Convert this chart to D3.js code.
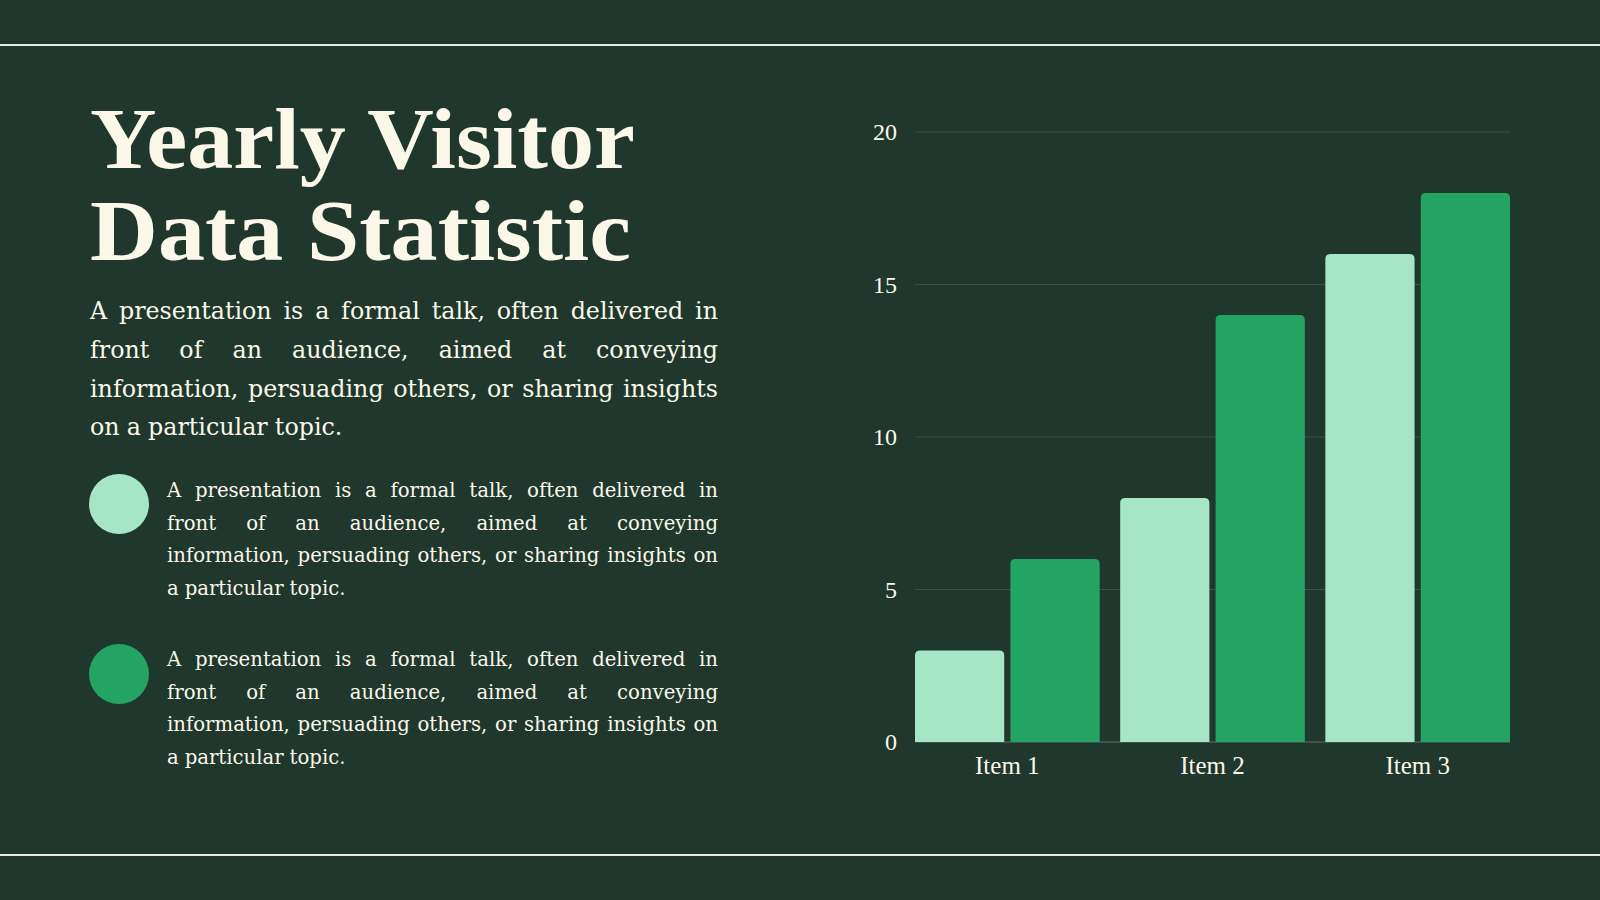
<!DOCTYPE html>
<html>
<head>
<meta charset="utf-8">
<script src="https://cdn.jsdelivr.net/npm/d3@7"></script>
<style>
  html, body { margin: 0; padding: 0; background: #1f372c; }
  svg { display: block; }
</style>
</head>
<body>
<svg id="slide" width="1600" height="900"></svg>
<script>
// chart data
var items = ["Item 1", "Item 2", "Item 3"];
var seriesA = [3, 8, 16];
var seriesB = [6, 14, 18];
var yTicks = [0, 5, 10, 15, 20];

// slide text
var titleLines = ["Yearly Visitor", "Data Statistic"];
var introLines = [
  "A presentation is a formal talk, often delivered in",
  "front of an audience, aimed at conveying",
  "information, persuading others, or sharing insights",
  "on a particular topic."
];
var bulletLines = [
  "A presentation is a formal talk, often delivered in",
  "front of an audience, aimed at conveying",
  "information, persuading others, or sharing insights on",
  "a particular topic."
];

var bg = "#1f372c", cream = "#fbf7e9";
var colA = "#a6e5c6", colB = "#24a463";
var bodyFont = "DejaVu Serif, Liberation Serif, serif";
var labelFont = "Liberation Serif, DejaVu Serif, serif";

var svg = d3.select("#slide");
svg.append("rect").attr("width", 1600).attr("height", 900).attr("fill", bg);

// frame lines
[45, 855].forEach(function(y) {
  svg.append("line").attr("x1", 0).attr("x2", 1600).attr("y1", y).attr("y2", y)
    .attr("stroke", "#e9ece6").attr("stroke-width", 2);
});

// title
var titleW = [545, 541];
titleLines.forEach(function(t, i) {
  svg.append("text")
    .attr("x", 90).attr("y", 168 + i * 92)
    .attr("font-family", labelFont)
    .attr("font-weight", "bold")
    .attr("font-size", 86)
    .attr("fill", cream)
    .attr("textLength", titleW[i])
    .attr("lengthAdjust", "spacingAndGlyphs")
    .text(t);
});

// font size so the longest line, set loosely, nearly fills the width
function fitSize(lines, width, s0) {
  var probe = svg.append("text").attr("font-family", bodyFont).attr("font-size", s0);
  var w = d3.max(lines, function(l) { probe.text(l); return probe.node().getComputedTextLength(); });
  probe.remove();
  return s0 * width * 0.985 / w;
}

// justified block: every line but the last is spread to full width
function block(lines, x, y0, width, size, lh) {
  lines.forEach(function(line, li) {
    var words = line.split(" ");
    var g = svg.append("g");
    var nodes = words.map(function(w) {
      return g.append("text")
        .attr("y", y0 + li * lh)
        .attr("font-family", bodyFont)
        .attr("font-size", size)
        .attr("fill", cream)
        .text(w);
    });
    var widths = nodes.map(function(n) { return n.node().getComputedTextLength(); });
    var total = d3.sum(widths);
    var last = li === lines.length - 1;
    var gap = last || words.length < 2 ? size * 0.3 : (width - total) / (words.length - 1);
    var cx = x;
    nodes.forEach(function(n, i) {
      n.attr("x", cx);
      cx += widths[i] + gap;
    });
  });
}

block(introLines, 90, 319, 628, fitSize(introLines, 628, 26), 38.8);

var bSize = fitSize(bulletLines, 551, 21);
var bullets = [{c: colA, cy: 504, y0: 497}, {c: colB, cy: 674, y0: 666}];
bullets.forEach(function(b) {
  svg.append("circle").attr("cx", 119).attr("cy", b.cy).attr("r", 30).attr("fill", b.c);
  block(bulletLines, 167, b.y0, 551, bSize, 32.6);
});

// chart
var x0 = d3.scaleBand().domain(items).range([915, 1510]).paddingInner(0.1).paddingOuter(0);
var x1 = d3.scaleBand().domain([0, 1]).range([0, x0.bandwidth()]).paddingInner(0.065).paddingOuter(0);
var y = d3.scaleLinear().domain([0, 20]).range([742, 132]);

var grid = svg.append("g");
grid.selectAll("line").data(yTicks).enter().append("line")
  .attr("x1", 915).attr("x2", 1510)
  .attr("y1", function(d) { return y(d); }).attr("y2", function(d) { return y(d); })
  .attr("stroke", function(d) { return d === 0 ? "#5c6f64" : "#3a5345"; })
  .attr("stroke-width", 1);

var yAxis = d3.axisLeft(y).tickValues(yTicks).tickSize(0).tickPadding(0);
var ya = svg.append("g").attr("transform", "translate(897,0)").call(yAxis);
ya.select(".domain").remove();
ya.selectAll("text")
  .attr("font-family", labelFont)
  .attr("font-size", 24).attr("fill", cream);

var xAxis = d3.axisBottom(x0).tickSize(0).tickPadding(0);
var xa = svg.append("g").attr("transform", "translate(0,756)").call(xAxis);
xa.select(".domain").remove();
xa.selectAll("text")
  .attr("font-family", labelFont)
  .attr("font-size", 25).attr("fill", cream);

function topRounded(x, yTop, w, h, r) {
  return "M" + x + "," + (yTop + h) +
    "V" + (yTop + r) + "Q" + x + "," + yTop + " " + (x + r) + "," + yTop +
    "H" + (x + w - r) + "Q" + (x + w) + "," + yTop + " " + (x + w) + "," + (yTop + r) +
    "V" + (yTop + h) + "Z";
}

var rows = items.map(function(it, i) { return {item: it, vals: [seriesA[i], seriesB[i]]}; });
var groups = svg.selectAll(".grp").data(rows).enter().append("g")
  .attr("class", "grp")
  .attr("transform", function(d) { return "translate(" + x0(d.item) + ",0)"; });
groups.selectAll("path").data(function(d) { return d.vals; }).enter().append("path")
  .attr("fill", function(d, i) { return i === 0 ? colA : colB; })
  .attr("d", function(d, i) {
    return topRounded(x1(i), y(d), x1.bandwidth(), y(0) - y(d), 5);
  });
</script>
</body>
</html>
